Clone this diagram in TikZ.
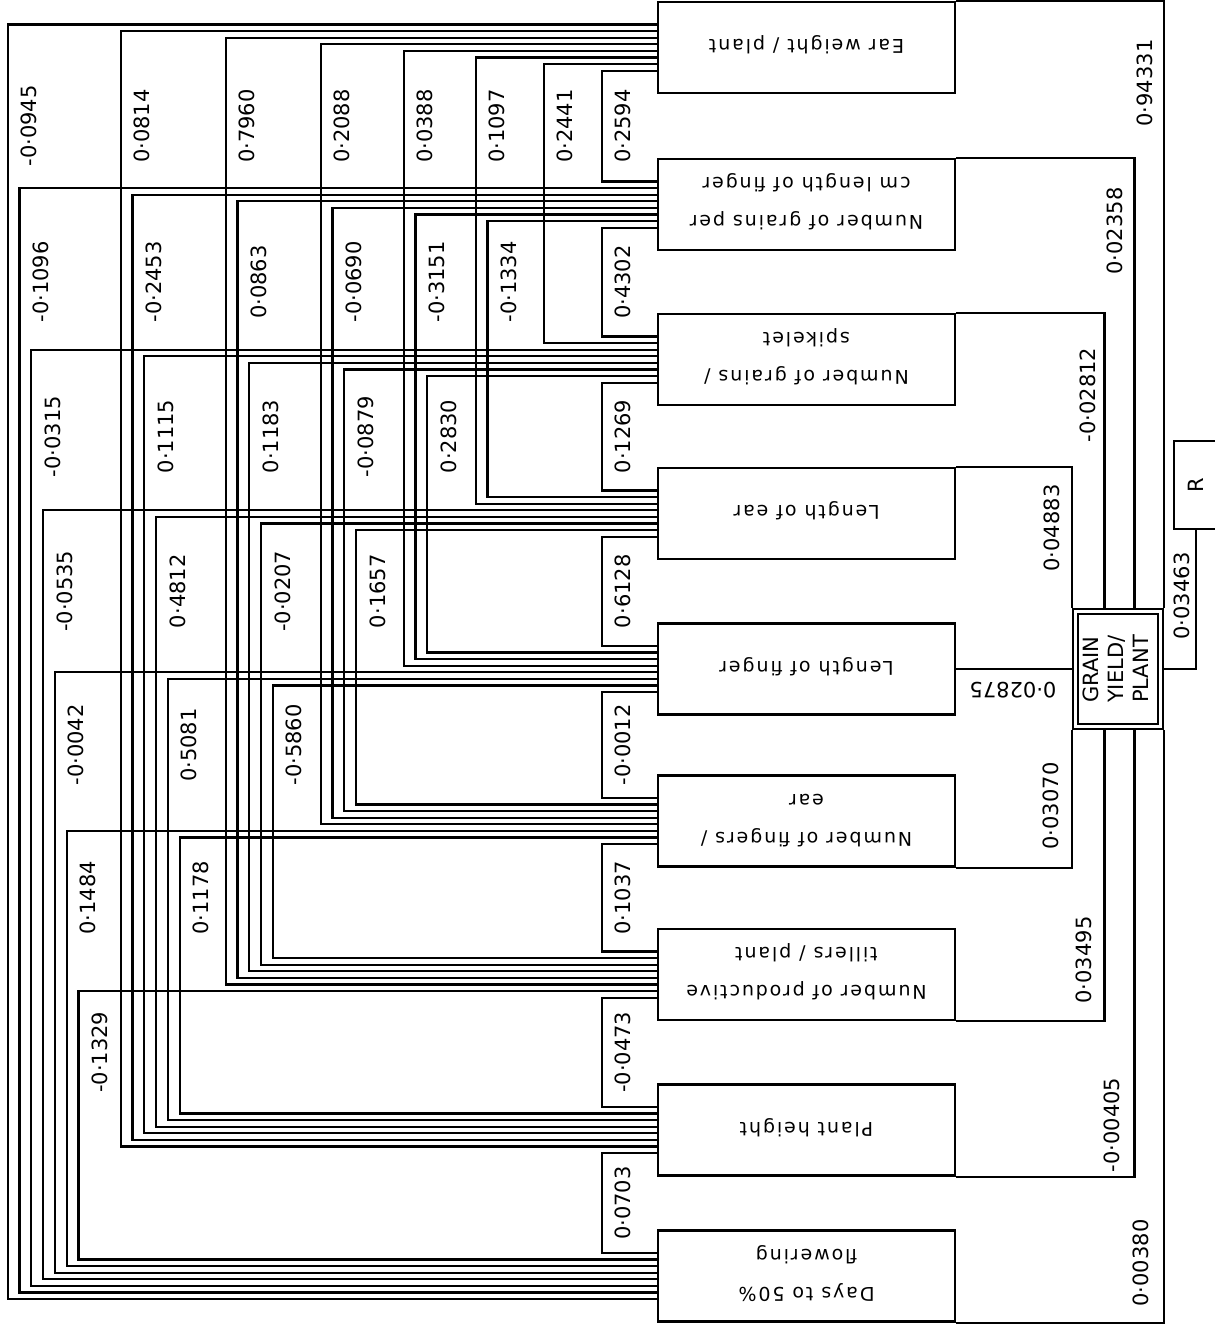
\documentclass[tikz,border=0pt]{standalone}
\usepackage{fontspec}
\setmainfont{DejaVu Sans}
\newfontfamily\boxfont[LetterSpace=10]{DejaVu Sans}
\usepackage{graphicx}
\usetikzlibrary{calc}

\newcommand\flipped[1]{\rotatebox[origin=c]{180}{\begin{tabular}{@{}c@{}}#1\end{tabular}}}
\newcommand\sideways[1]{\rotatebox[origin=c]{90}{\begin{tabular}{@{}l@{}}#1\end{tabular}}}

\begin{document}
\begin{tikzpicture}[
        x=.5pt, y=-.5pt,
        box/.style={draw, line width=1.3pt, minimum width=148.5pt, minimum height=45.5pt,
            inner sep=0pt, font=\boxfont\fontsize{9.5}{19}\selectfont},
        wire/.style={line width=1.1pt},
        num/.style={inner sep=0pt, font=\fontsize{10.5}{12}\selectfont},
        val/.style={num, rotate=90},
    ]
    \useasboundingbox (0,0) rectangle (1215,1329);

    %% the nine characters
    \node[box] (b1) at (806.5, 47.5) {\flipped{Ear weight / plant}};
    \node[box] (b2) at (806.5, 204.5) {\flipped{Number of grains per\\cm length of finger}};
    \node[box] (b3) at (806.5, 359.5) {\flipped{Number of grains /\\spikelet}};
    \node[box] (b4) at (806.5, 513.5) {\flipped{Length of ear}};
    \node[box] (b5) at (806.5, 669) {\flipped{Length of finger}};
    \node[box] (b6) at (806.5, 821) {\flipped{Number of fingers /\\ear}};
    \node[box] (b7) at (806.5, 974.5) {\flipped{Number of productive\\tillers / plant}};
    \node[box] (b8) at (806.5, 1130) {\flipped{Plant height}};
    \node[box] (b9) at (806.5, 1276) {\flipped{Days to 50\%\\flowering}};

    %% grain yield and residual
    \node[draw, line width=1.3pt, minimum width=45pt, minimum height=60pt, inner sep=0pt,
        font=\fontsize{10.5}{12.5}\selectfont] (gy) at (1118, 669) {\sideways{GRAIN\\YIELD/\\PLANT}};
    \draw[line width=1.1pt] ($(gy.south west)+(6,-6)$) rectangle ($(gy.north east)+(-6,6)$);
    \node[num, draw, line width=1.3pt, minimum width=22pt, minimum height=44pt] (r) at (1196, 485) {\rotatebox{90}{R}};

    \coordinate (gyn1) at ($(gy.north west)!.355!(gy.north east)$);
    \coordinate (gyn2) at ($(gy.north west)!.678!(gy.north east)$);
    \coordinate (gys1) at ($(gy.south west)!.355!(gy.south east)$);
    \coordinate (gys2) at ($(gy.south west)!.678!(gy.south east)$);

    %% direct effects
    \draw[wire] (b1.north east) -| (gy.north east);
    \draw[wire] (b2.north east) -| (gyn2);
    \draw[wire] (b3.north east) -| (gyn1);
    \draw[wire] (b4.north east) -| (gy.north west);
    \draw[wire] (b5.east) -- (gy.west);
    \draw[wire] (b6.south east) -| (gy.south west);
    \draw[wire] (b7.south east) -| (gys1);
    \draw[wire] (b8.south east) -| (gys2);
    \draw[wire] (b9.south east) -| (gy.south east);
    \draw[wire] (gy.east) -| (r.south);

    \node[val] (p1) at (1145, 83) {0·94331};
    \node[val] (p2) at (1115, 231) {0·02358};
    \node[val] (p3) at (1088, 395) {-0·02812};
    \node[val] (p4) at (1052, 528) {0·04883};
    \node[num, rotate=180] (p5) at (1013, 690) {0·02875};
    \node[val] (p6) at (1051, 806) {0·03070};
    \node[val] (p7) at (1084, 960) {0·03495};
    \node[val] (p8) at (1112, 1125) {-0·00405};
    \node[val] (p9) at (1141, 1263) {0·00380};
    \node[val] (pr) at (1182, 596) {0·03463};

    %% correlations, one bracket per pair
    \foreach \i/\j/\v in {
        1/9/-0·0945, 1/8/0·0814, 1/7/0·7960, 1/6/0·2088, 1/5/0·0388, 1/4/0·1097, 1/3/0·2441, 1/2/0·2594,
        2/9/-0·1096, 2/8/-0·2453, 2/7/0·0863, 2/6/-0·0690, 2/5/-0·3151, 2/4/-0·1334, 2/3/0·4302,
        3/9/-0·0315, 3/8/0·1115, 3/7/0·1183, 3/6/-0·0879, 3/5/0·2830, 3/4/0·1269,
        4/9/-0·0535, 4/8/0·4812, 4/7/-0·0207, 4/6/0·1657, 4/5/0·6128,
        5/9/-0·0042, 5/8/0·5081, 5/7/-0·5860, 5/6/-0·0012,
        6/9/0·1484, 6/8/0·1178, 6/7/0·1037,
        7/9/-0·1329, 7/8/-0·0473,
        8/9/0·0703}{
        \pgfmathsetmacro\ya{(\i+8-\j-3.5)*6.6}
        \pgfmathsetmacro\yb{(\j-\i-4.5)*6.6}
        \pgfmathsetmacro\xg{{0,0,0,545,477,405,322,227,122,9}[\j]+(\i-1)*11.8}
        \pgfmathsetmacro\xv{\j==\i+1 ? 603 : \xg}
        \pgfmathtruncatemacro\inext{\i+1}
        \path (b\i.center) -- (b\inext.center) coordinate[pos=.5] (m\i\j);
        \draw[wire] ($(b\i.west)+(0,\ya)$) -| ($(b\j.west)+(\xv-658,\yb)$) -- ($(b\j.west)+(0,\yb)$);
        \node[val] (l\i\j) at (\xv+20, 0 |- m\i\j) {\v};
    }
\end{tikzpicture}
\end{document}
